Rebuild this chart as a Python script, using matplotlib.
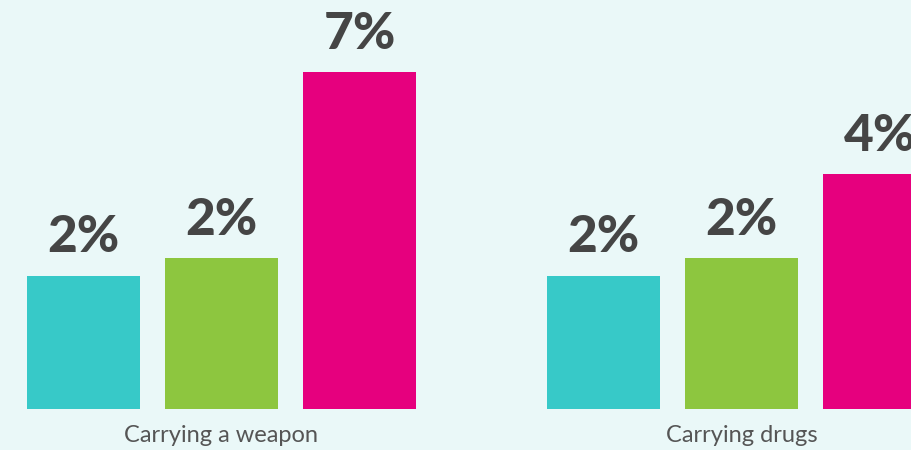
import numpy as np
import matplotlib.pyplot as plt

groups = ['Carrying a weapon', 'Carrying drugs']
colors = ['#37c9c8', '#8dc63f', '#e6007e']
# bar heights (estimated) and the printed labels
weapon = [2.0, 2.4, 6.6]
drugs = [2.0, 2.4, 4.3]
weapon_lbl = ['2%', '2%', '7%']
drugs_lbl = ['2%', '2%', '4%']

bg = '#eaf8f8'
fig = plt.figure(figsize=(9.12, 4.5), dpi=100)
fig.patch.set_facecolor(bg)
ax = fig.add_axes([0, 41/450, 1, 409/450])
ax.set_facecolor(bg)

gap = 3.77
width = 0.82
for g, (vals, lbls) in enumerate([(weapon, weapon_lbl), (drugs, drugs_lbl)]):
    x = g*gap + np.arange(3)
    ax.bar(x, np.array(vals) + 1, bottom=-1, width=width, color=colors)
    for xi, v, l in zip(x, vals, lbls):
        ax.text(xi, v + 0.33, l, ha='center', va='bottom', fontsize=37,
                fontweight='black', family='Lato', color='#454545')
    ax.text(x[1], -1.35, groups[g], ha='center', va='top', fontsize=17,
            family='Lato', color='#555555', clip_on=False)

ax.set_xlim(-0.605, -0.605 + 912/138)
ax.set_ylim(-1, -1 + 409/44.3)
ax.axis('off')
fig.savefig('out.png', dpi=100, facecolor=bg)
